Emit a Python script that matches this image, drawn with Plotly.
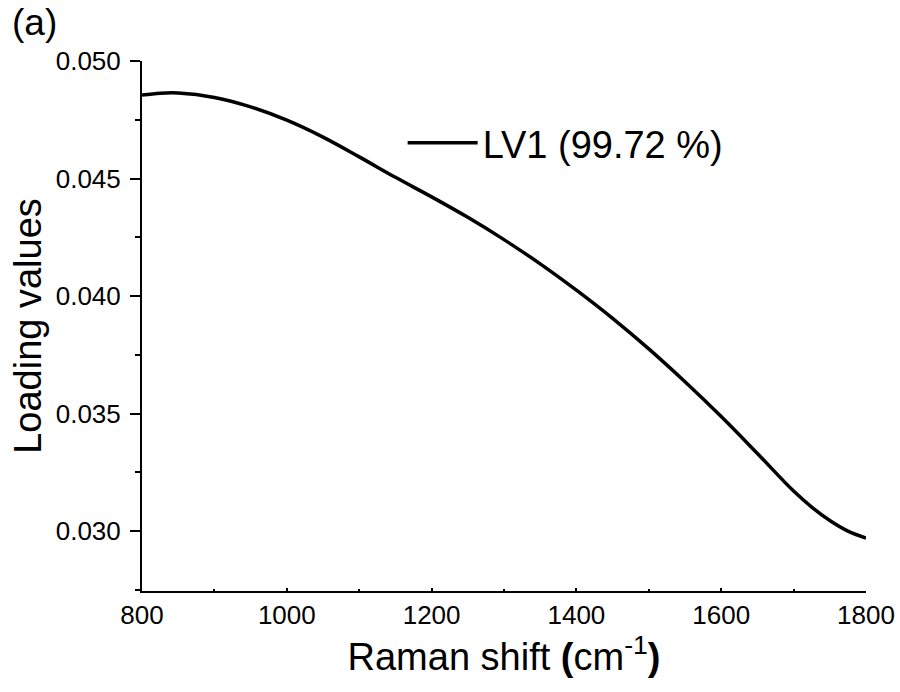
import plotly.graph_objects as go

# Data
raman_shift = [800, 825, 850, 900, 950, 1000, 1050, 1100, 1150, 1200, 1250,
               1300, 1350, 1400, 1450, 1500, 1550, 1600, 1650, 1700, 1725,
               1750, 1775, 1800]
loading_lv1 = [0.04855, 0.04863, 0.04864, 0.04845, 0.04805, 0.04748, 0.04676,
               0.04592, 0.04505, 0.04422, 0.04335, 0.04240, 0.04137, 0.04025,
               0.03905, 0.03775, 0.03635, 0.03487, 0.03330, 0.03170, 0.03102,
               0.03045, 0.03000, 0.02970]
series_name = "LV1 (99.72 %)"
x_ticks = [800, 1000, 1200, 1400, 1600, 1800]
y_ticks = [0.030, 0.035, 0.040, 0.045, 0.050]

FONT = "Liberation Sans, Arial, sans-serif"

fig = go.Figure()
fig.add_trace(go.Scatter(
    x=raman_shift, y=loading_lv1, mode="lines", name=series_name,
    line=dict(color="black", width=3.5, shape="spline", smoothing=1.0),
))

fig.update_layout(
    width=900, height=692,
    margin=dict(l=142, r=34, t=61, b=101, autoexpand=False),
    paper_bgcolor="white", plot_bgcolor="white",
    font=dict(family=FONT, color="black"),
    showlegend=True,
    legend=dict(x=0.36, y=0.845, xanchor="left", yanchor="middle",
                bgcolor="rgba(0,0,0,0)", font=dict(size=38, family=FONT),
                itemwidth=70),
    annotations=[dict(text="(a)", xref="paper", yref="paper", x=-0.183, y=1.115,
                      xanchor="left", yanchor="top", showarrow=False,
                      font=dict(size=37, family=FONT))],
)

fig.update_xaxes(
    range=[800, 1800], tickvals=x_ticks, ticktext=[str(v) for v in x_ticks],
    automargin=False,
    showline=True, linecolor="black", linewidth=2, mirror=False,
    ticks="inside", ticklen=3, tickwidth=1.5, tickcolor="black",
    minor=dict(ticks="inside", ticklen=2, tickwidth=1.5, tickcolor="black", dtick=100),
    showgrid=False, zeroline=False,
    tickfont=dict(size=26, family=FONT), ticklabelstandoff=0,
    title=dict(text="Raman shift <b>(</b>cm<sup>-1</sup><b>)</b>",
               font=dict(size=38, family=FONT), standoff=0),
)
fig.update_yaxes(
    range=[0.02745, 0.0500], tickvals=y_ticks,
    ticktext=[f"{v:.3f}" for v in y_ticks],
    automargin=False,
    showline=True, linecolor="black", linewidth=2, mirror=False,
    ticks="outside", ticklen=10, tickwidth=2, tickcolor="black",
    minor=dict(ticks="outside", ticklen=5, tickwidth=2, tickcolor="black", dtick=0.0025),
    showgrid=False, zeroline=False,
    tickfont=dict(size=26, family=FONT), ticklabelstandoff=4,
    title=dict(text="Loading values", font=dict(size=38, family=FONT), standoff=2),
)

fig.write_html("out.html")
